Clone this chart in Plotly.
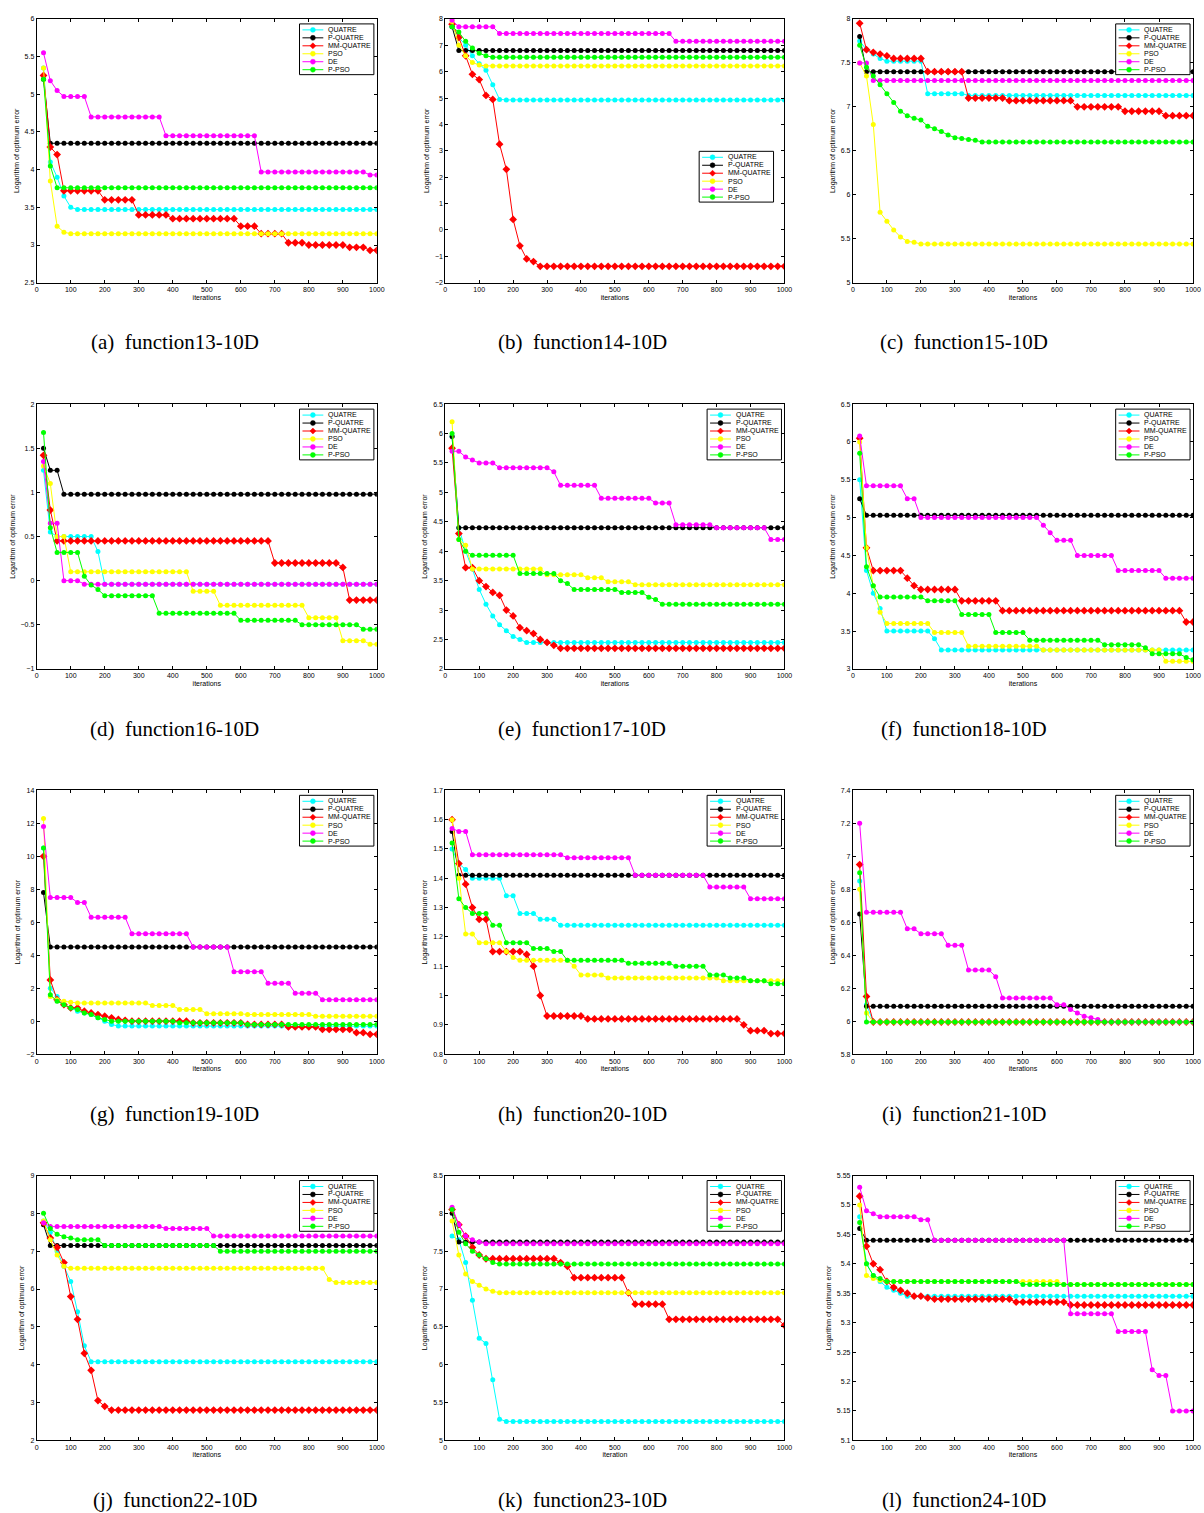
import plotly.graph_objects as go

# iterations sampled every 20 steps
iters = list(range(20, 1001, 20))
names = ["QUATRE", "P-QUATRE", "MM-QUATRE", "PSO", "DE", "P-PSO"]
colors = ["#00FFFF", "#000000", "#FF0000", "#FFFF00", "#FF00FF", "#00FF00"]
symbols = ["circle", "circle", "diamond", "circle", "circle", "circle"]

# ── data: one list per panel, series in the order of `names` ──
f13 = [
    [5.35, 4.1, 3.9, 3.65, 3.5] + [3.47] * 45,
    [5.2] + [4.35] * 49,
    [5.25, 4.3, 4.2, 3.72] + [3.72] * 5 + [3.6] * 5 + [3.4] * 5 + [3.35] * 10 + [3.25] * 3 + [3.15] * 4 + [3.03] * 3 + [3.0] * 6 + [2.97] * 3 + [2.93] * 2,
    [5.35, 3.85, 3.25, 3.17] + [3.15] * 46,
    [5.55, 5.18, 5.05] + [4.97] * 4 + [4.7] * 11 + [4.45] * 14 + [3.97] * 16 + [3.93] * 2,
    [5.2, 4.05] + [3.76] * 48,
]
f14 = [
    [7.7, 7.3, 7.0, 6.6, 6.3, 6.05, 5.5, 4.95] + [4.93] * 42,
    [7.7] + [6.8] * 49,
    [7.8, 7.3, 6.6, 5.9, 5.7, 5.1, 4.95, 3.25, 2.3, 0.4, -0.6, -1.1, -1.2, -1.38] + [-1.38] * 36,
    [7.9, 7.0, 6.6, 6.35, 6.25] + [6.22] * 45,
    [7.95] + [7.7] * 6 + [7.45] * 26 + [7.15] * 17,
    [7.7, 7.5, 7.15, 6.9, 6.7, 6.6] + [6.55] * 44,
]
f15 = [
    [7.75, 7.65, 7.6, 7.55] + [7.52] * 6 + [7.15] * 6 + [7.13] * 34,
    [7.8] + [7.4] * 49,
    [7.95, 7.65, 7.62, 7.6, 7.58] + [7.55] * 5 + [7.4] * 6 + [7.1] * 6 + [7.07] * 10 + [7.0] * 7 + [6.95] * 6 + [6.9] * 5,
    [7.5, 7.35, 6.8, 5.8, 5.7, 5.6, 5.52, 5.47, 5.46] + [5.44] * 41,
    [7.5, 7.5] + [7.3] * 48,
    [7.7, 7.45, 7.35, 7.25, 7.15, 7.05, 6.95, 6.9, 6.87, 6.85, 6.78, 6.75, 6.72, 6.68, 6.65, 6.64, 6.63, 6.62] + [6.6] * 32,
]
f16 = [
    [1.25, 0.55] + [0.5] * 6 + [0.33] + [-0.04] * 41,
    [1.5, 1.25, 1.25] + [0.98] * 47,
    [1.42, 0.8] + [0.45] * 32 + [0.2] * 10 + [0.15] + [-0.22] * 5,
    [1.3, 1.1, 0.5, 0.5] + [0.1] * 18 + [-0.12] * 4 + [-0.28] * 13 + [-0.42] * 5 + [-0.68] * 4 + [-0.72] * 2,
    [1.35, 0.65, 0.65] + [0.0] * 3 + [-0.04] * 44,
    [1.68, 0.6] + [0.32] * 4 + [0.05, -0.05, -0.1] + [-0.17] * 8 + [-0.37] * 12 + [-0.45] * 9 + [-0.5] * 9 + [-0.55] * 3,
]
f17 = [
    [5.95, 4.4, 4.0, 3.7, 3.35, 3.1, 2.9, 2.75, 2.65, 2.55, 2.5] + [2.45] * 39,
    [5.95] + [4.4] * 49,
    [5.75, 4.3, 3.72, 3.72, 3.5, 3.4, 3.3, 3.25, 3.0, 2.9, 2.7, 2.65, 2.6, 2.5, 2.45, 2.4, 2.35] + [2.35] * 33,
    [6.2, 4.2, 4.1] + [3.7] * 11 + [3.6] * 6 + [3.55] * 3 + [3.48] * 4 + [3.43] * 23,
    [5.7, 5.7, 5.6, 5.55] + [5.5] * 3 + [5.42] * 8 + [5.35] + [5.12] * 6 + [4.9] * 8 + [4.82] * 3 + [4.45] * 6 + [4.4] * 8 + [4.2] * 3,
    [6.0, 4.2, 4.0] + [3.93] * 7 + [3.62] * 6 + [3.5, 3.45] + [3.35] * 7 + [3.3] * 4 + [3.22, 3.18] + [3.1] * 19,
]
f18 = [
    [5.5, 4.3, 4.0, 3.8] + [3.5] * 7 + [3.4] + [3.25] * 38,
    [5.25] + [5.03] * 49,
    [6.05, 4.6] + [4.3] * 5 + [4.2, 4.1] + [4.05] * 6 + [3.9] * 6 + [3.77] * 27 + [3.62] * 2,
    [6.0, 4.6, 4.1, 3.75] + [3.6] * 7 + [3.48] * 5 + [3.3] * 11 + [3.25] * 18 + [3.1] * 5,
    [6.08] + [5.42] * 6 + [5.25] * 2 + [5.0] * 18 + [4.9, 4.8] + [4.7] * 3 + [4.5] * 6 + [4.3] * 7 + [4.2] * 5,
    [5.85, 4.35, 4.1] + [3.95] * 7 + [3.9] * 5 + [3.72] * 5 + [3.48] * 5 + [3.38] * 11 + [3.32] * 6 + [3.28] + [3.2] * 5 + [3.15, 3.12],
]
f19 = [
    [10.5, 2.0, 1.5, 1.0, 0.8, 0.6, 0.5, 0.4, 0.2, 0.0, -0.2, -0.3] + [-0.3] * 38,
    [7.8] + [4.5] * 49,
    [10.0, 2.5, 1.3, 1.0, 0.8, 0.8, 0.6, 0.5, 0.4, 0.3, 0.2, 0.1, 0.05, 0.0] + [0.0] * 8 + [-0.1] * 8 + [-0.2] * 6 + [-0.35] * 5 + [-0.5] * 5 + [-0.7] * 2 + [-0.8] * 2,
    [12.3, 1.5, 1.3, 1.2, 1.15] + [1.1] * 11 + [0.95] * 4 + [0.7] * 4 + [0.45] * 6 + [0.4] * 10 + [0.3] * 10,
    [11.8] + [7.5] * 4 + [7.2] * 2 + [6.3] * 6 + [5.3] * 9 + [4.5] * 6 + [3.0] * 5 + [2.3] * 4 + [1.7] * 4 + [1.3] * 9,
    [10.5, 1.6, 1.2, 1.0, 0.8, 0.7, 0.5, 0.4, 0.2, 0.1] + [0.0] * 10 + [-0.1] * 10 + [-0.2] * 20,
]
f20 = [
    [1.5, 1.45, 1.43] + [1.4] * 5 + [1.34] * 2 + [1.28] * 3 + [1.26] * 3 + [1.24] * 34,
    [1.56] + [1.41] * 49,
    [1.6, 1.45, 1.38, 1.3] + [1.26] * 2 + [1.15] * 5 + [1.14, 1.1, 1.0] + [0.93] * 6 + [0.92] * 23 + [0.9] + [0.88] * 3 + [0.87] * 3,
    [1.6, 1.4] + [1.21] * 2 + [1.18] * 4 + [1.15, 1.13] + [1.12] * 8 + [1.1] + [1.07] * 4 + [1.06] * 17 + [1.05] * 10,
    [1.57] + [1.56] * 2 + [1.48] * 14 + [1.47] * 10 + [1.41] * 11 + [1.37] * 6 + [1.33] * 6,
    [1.52, 1.33, 1.3] + [1.28] * 3 + [1.24] * 2 + [1.18] * 4 + [1.16] * 3 + [1.15] * 2 + [1.12] * 9 + [1.11] * 7 + [1.1] * 5 + [1.07] * 3 + [1.06] * 3 + [1.05] * 3 + [1.04] * 3,
]
f21 = [
    [6.85, 6.1] + [5.995] * 48,
    [6.65] + [6.09] * 49,
    [6.95, 6.15] + [5.995] * 48,
    [6.8, 6.05] + [5.995] * 48,
    [7.2] + [6.66] * 6 + [6.56] * 2 + [6.53] * 4 + [6.46] * 3 + [6.31] * 4 + [6.27] + [6.14] * 8 + [6.1] * 2 + [6.07, 6.05, 6.03, 6.02, 6.01] + [5.995] * 14,
    [6.9] + [5.995] * 49,
]
f22 = [
    [7.8, 7.5, 7.0, 6.6, 6.2, 5.4, 4.5] + [4.08] * 43,
    [7.7] + [7.15] * 49,
    [7.75, 7.35, 7.1, 6.7, 5.8, 5.2, 4.3, 3.85, 3.05, 2.9] + [2.8] * 40,
    [7.8, 7.3, 6.9, 6.6] + [6.55] * 38 + [6.25] + [6.17] * 7,
    [7.75] + [7.65] * 17 + [7.6] * 7 + [7.4] * 25,
    [8.0, 7.6, 7.45, 7.38, 7.35] + [7.3] * 4 + [7.15] * 17 + [7.0] * 24,
]
f23 = [
    [7.7, 7.65, 7.35, 6.85, 6.35, 6.28, 5.8, 5.28] + [5.25] * 42,
    [8.0] + [7.62] * 49,
    [8.05, 7.85, 7.7, 7.55, 7.45] + [7.4] * 11 + [7.35, 7.3] + [7.15] * 8 + [6.95] + [6.8] * 5 + [6.6] * 17 + [6.52],
    [7.9, 7.45, 7.2, 7.1, 7.05, 7.0, 6.97] + [6.95] * 43,
    [8.08, 7.85, 7.7, 7.65, 7.62] + [7.6] * 45,
    [8.05, 7.75, 7.6, 7.5, 7.45, 7.4, 7.35] + [7.33] * 43,
]
f24 = [
    [5.48, 5.4, 5.38, 5.37, 5.36, 5.355, 5.35] + [5.345] * 43,
    [5.46] + [5.44] * 49,
    [5.515, 5.43, 5.4, 5.39, 5.37, 5.36, 5.355, 5.35, 5.345, 5.345, 5.342] + [5.34] * 12 + [5.335] * 8 + [5.33] * 19,
    [5.5, 5.38, 5.375, 5.372] + [5.37] * 26 + [5.365] * 20,
    [5.53, 5.49, 5.485] + [5.48] * 6 + [5.475] * 2 + [5.44] * 20 + [5.315] * 7 + [5.285] * 5 + [5.22, 5.21, 5.21] + [5.15] * 4,
    [5.47, 5.4, 5.38, 5.375] + [5.37] * 20 + [5.365] * 26,
]

panels = [f13, f14, f15, f16, f17, f18, f19, f20, f21, f22, f23, f24]
captions = ["(a)  function13-10D", "(b)  function14-10D", "(c)  function15-10D",
            "(d)  function16-10D", "(e)  function17-10D", "(f)  function18-10D",
            "(g)  function19-10D", "(h)  function20-10D", "(i)  function21-10D",
            "(j)  function22-10D", "(k)  function23-10D", "(l)  function24-10D"]
y_ranges = [(2.5, 6, 0.5), (-2, 8, 1), (5, 8, 0.5), (-1, 2, 0.5), (2, 6.5, 0.5), (3, 6.5, 0.5),
            (-2, 14, 2), (0.8, 1.7, 0.1), (5.8, 7.4, 0.2), (2, 9, 1), (5, 8.5, 0.5), (5.1, 5.55, 0.05)]
x_titles = ["iterations"] * 10 + ["iteration", "iterations"]

W, H = 1204, 1513
col_px = [(35, 378), (447, 789), (858, 1201)]
row_px = [(15, 280), (402, 668), (790, 1055), (1177, 1443)]
caption_cx = [174, 585, 970]


def px(x, y):
    return x / W, 1 - y / H


fig = go.Figure()
shapes, annotations = [], []
layout = dict(width=W, height=H, margin=dict(l=0, r=0, t=0, b=0),
              paper_bgcolor="white", plot_bgcolor="white", showlegend=False,
              font=dict(family="Liberation Sans, Arial", size=7, color="black"))

for k, series in enumerate(panels):
    r, c = divmod(k, 3)
    n = k + 1
    xd = [col_px[c][0] / W, col_px[c][1] / W]
    yd = [1 - row_px[r][1] / H, 1 - row_px[r][0] / H]
    ax = "" if n == 1 else str(n)
    for vals, name, col, sym in zip(series, names, colors, symbols):
        fig.add_trace(go.Scatter(
            x=iters, y=vals, name=name, mode="lines+markers",
            xaxis="x" + ax, yaxis="y" + ax,
            line=dict(color=col, width=1),
            marker=dict(color=col, symbol=sym, size=5 if sym == "circle" else 6),
        ))
    lo, hi, dt = y_ranges[k]
    common = dict(showline=True, mirror="ticks", linecolor="black", linewidth=1,
                  ticks="inside", ticklen=3, tickcolor="black", showgrid=False,
                  zeroline=False, tickfont=dict(size=7))
    layout["xaxis" + ax] = dict(domain=xd, anchor="y" + ax, range=[0, 1000], dtick=100,
                                title=dict(text=x_titles[k], font=dict(size=7), standoff=2), **common)
    layout["yaxis" + ax] = dict(domain=yd, anchor="x" + ax, range=[lo, hi], dtick=dt,
                                title=dict(text="Logarithm of optimum error", font=dict(size=7), standoff=4), **common)

    # hand-drawn legend box (Plotly's own legend rows are too tall)
    if n == 2:
        bl, bt = col_px[c][1] - 86, row_px[r][0] + 133
    else:
        bl, bt = col_px[c][1] - 78, row_px[r][0] + 5
    bw, bh = 75, 51
    x0, y0 = px(bl, bt + bh)
    x1, y1 = px(bl + bw, bt)
    shapes.append(dict(type="rect", xref="paper", yref="paper", x0=x0, y0=y0, x1=x1, y1=y1,
                       line=dict(color="black", width=1), fillcolor="white", layer="above"))
    for i, (name, col, sym) in enumerate(zip(names, colors, symbols)):
        yy = bt + 6 + 8 * i
        a0, b0 = px(bl + 3, yy)
        a1, _ = px(bl + 24, yy)
        shapes.append(dict(type="line", xref="paper", yref="paper", x0=a0, y0=b0, x1=a1, y1=b0,
                           line=dict(color=col, width=1), layer="above"))
        cx = bl + 13.5
        if sym == "circle":
            m0 = px(cx - 2.5, yy + 2.5)
            m1 = px(cx + 2.5, yy - 2.5)
            shapes.append(dict(type="circle", xref="paper", yref="paper",
                               x0=m0[0], y0=m0[1], x1=m1[0], y1=m1[1],
                               fillcolor=col, line=dict(color=col, width=0.5), layer="above"))
        else:
            pts = [px(cx, yy - 3), px(cx + 3, yy), px(cx, yy + 3), px(cx - 3, yy)]
            path = "M " + " L ".join(f"{p[0]},{p[1]}" for p in pts) + " Z"
            shapes.append(dict(type="path", xref="paper", yref="paper", path=path,
                               fillcolor=col, line=dict(color=col, width=0.5), layer="above"))
        tx, ty = px(bl + 27, yy)
        annotations.append(dict(text=name, x=tx, y=ty, xref="paper", yref="paper",
                                showarrow=False, xanchor="left", yanchor="middle",
                                font=dict(size=7)))

    annotations.append(dict(
        text=captions[k], x=caption_cx[c] / W, y=yd[0] - 60 / H,
        xref="paper", yref="paper", showarrow=False, xanchor="center", yanchor="middle",
        font=dict(family="Liberation Serif, Times New Roman", size=21, color="black")))

layout["shapes"] = shapes
layout["annotations"] = annotations
fig.update_layout(**layout)
fig.write_html("out.html", config={"displayModeBar": False},
               post_script="document.body.style.margin='0';document.body.style.overflow='hidden';")
